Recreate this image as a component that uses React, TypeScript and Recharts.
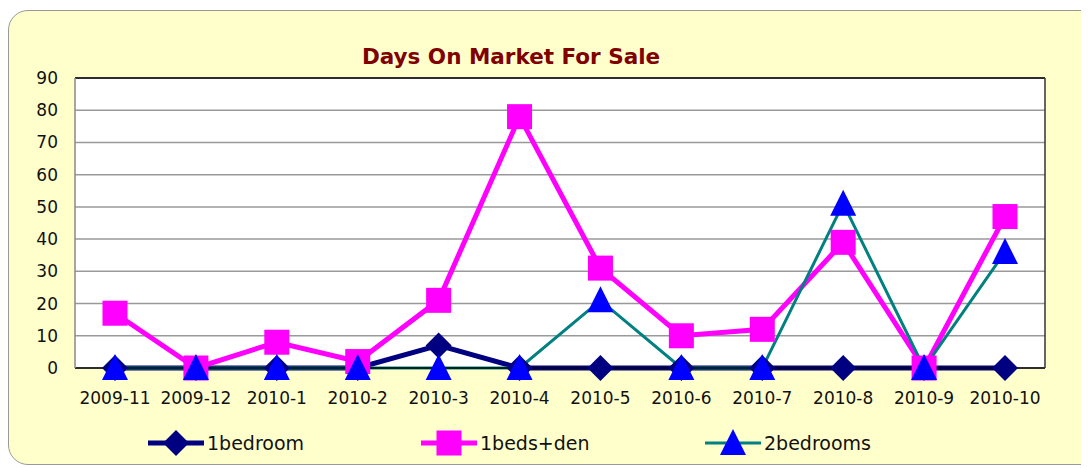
import React from 'react';
import {
  LineChart, Line, XAxis, YAxis, CartesianGrid, ReferenceLine,
} from 'recharts';

const MONTHS = ['2009-11', '2009-12', '2010-1', '2010-2', '2010-3', '2010-4', '2010-5', '2010-6', '2010-7', '2010-8', '2010-9', '2010-10'];
const ONE_BEDROOM = [0, 0, 0, 0, 7, 0, 0, 0, 0, 0, 0, 0];
const ONE_BEDS_DEN = [17, 0, 8, 2, 21, 78, 31, 10, 12, 39, 0, 47];
const TWO_BEDROOMS = [0, 0, 0, 0, 0, 0, 21, 0, 0, 51, 0, 36];
const Y_TICKS = [0, 10, 20, 30, 40, 50, 60, 70, 80, 90];

const data = MONTHS.map((m, i) => ({
  month: m,
  oneBed: ONE_BEDROOM[i],
  oneDen: ONE_BEDS_DEN[i],
  twoBed: TWO_BEDROOMS[i],
}));

type Shape = 'diamond' | 'square' | 'triangle';

const SERIES: { key: string; name: string; line: string; marker: string; width: number; shape: Shape }[] = [
  { key: 'oneBed', name: '1bedroom', line: '#000080', marker: '#000080', width: 5, shape: 'diamond' },
  { key: 'oneDen', name: '1beds+den', line: '#FF00FF', marker: '#FF00FF', width: 5, shape: 'square' },
  { key: 'twoBed', name: '2bedrooms', line: '#008080', marker: '#0000FF', width: 3, shape: 'triangle' },
];

const FONT = '"DejaVu Sans", Verdana, sans-serif';

const Marker = ({ shape, cx, cy, fill }: { shape: Shape; cx: number; cy: number; fill: string }) => {
  if (shape === 'diamond') {
    return <polygon points={`${cx},${cy - 13} ${cx + 13},${cy} ${cx},${cy + 13} ${cx - 13},${cy}`} fill={fill} />;
  }
  if (shape === 'square') {
    return <rect x={cx - 12.5} y={cy - 12.5} width={25} height={25} fill={fill} />;
  }
  return <polygon points={`${cx},${cy - 14} ${cx + 13},${cy + 12} ${cx - 13},${cy + 12}`} fill={fill} />;
};

const makeDot = (shape: Shape, fill: string) => (props: any) => {
  const { cx, cy, index } = props;
  if (cx == null || cy == null) return <g key={index} />;
  return <Marker key={index} shape={shape} cx={cx} cy={cy} fill={fill} />;
};

const LEGEND_LEFT = [140, 413, 697];

export default function App() {
  return (
    <div style={{ position: 'relative', width: 1081, height: 460, overflow: 'hidden', fontFamily: FONT }}>
      <div
        style={{
          position: 'absolute', left: 0, top: 2, width: 1100, height: 455,
          background: '#FFFFCC', border: '1px solid #999', borderRadius: 20, boxSizing: 'border-box',
        }}
      />
      <div
        style={{
          position: 'absolute', left: 353, top: 38, width: 300, textAlign: 'center',
          color: '#800000', fontWeight: 'bold', fontSize: 21.5, lineHeight: 1, whiteSpace: 'nowrap',
        }}
      >
        Days On Market For Sale
      </div>
      <div style={{ position: 'absolute', left: 0, top: 0 }}>
        <LineChart width={1081} height={460} data={data} margin={{ top: 70, right: 43, bottom: 60, left: 0 }}>
          <CartesianGrid vertical={false} stroke="#999" strokeWidth={1.5} fill="#fff" />
          <XAxis
            dataKey="month"
            height={40}
            tickSize={0}
            tickMargin={24}
            padding={{ left: 40, right: 40 }}
            axisLine={{ stroke: '#000', strokeWidth: 1.5 }}
            tick={{ fill: '#111', fontSize: 17, fontFamily: FONT }}
            interval={0}
          />
          <YAxis
            width={67}
            domain={[0, 90]}
            ticks={Y_TICKS}
            tickSize={0}
            tickMargin={17}
            axisLine={{ stroke: '#888', strokeWidth: 1.5 }}
            tick={{ fill: '#111', fontSize: 17, fontFamily: FONT }}
          />
          <YAxis yAxisId="r" orientation="right" width={1} tick={false} tickLine={false} axisLine={{ stroke: '#333', strokeWidth: 1.5 }} />
          <ReferenceLine y={90} stroke="#000" strokeWidth={1.5} />
          {SERIES.map(s => (
            <Line
              key={s.key}
              dataKey={s.key}
              name={s.name}
              type="linear"
              stroke={s.line}
              strokeWidth={s.width}
              dot={makeDot(s.shape, s.marker)}
              activeDot={false}
              isAnimationActive={false}
            />
          ))}
        </LineChart>
      </div>
      {SERIES.map((s, i) => (
        <div
          key={s.key}
          style={{ position: 'absolute', left: LEGEND_LEFT[i], top: 420, height: 30, display: 'flex', alignItems: 'center' }}
        >
          <svg width={56} height={30}>
            <line x1={0} y1={15} x2={56} y2={15} stroke={s.line} strokeWidth={s.width} />
            <Marker shape={s.shape} cx={28} cy={15} fill={s.marker} />
          </svg>
          <span style={{ fontSize: 19, color: '#111', marginLeft: 3 }}>{s.name}</span>
        </div>
      ))}
    </div>
  );
}
